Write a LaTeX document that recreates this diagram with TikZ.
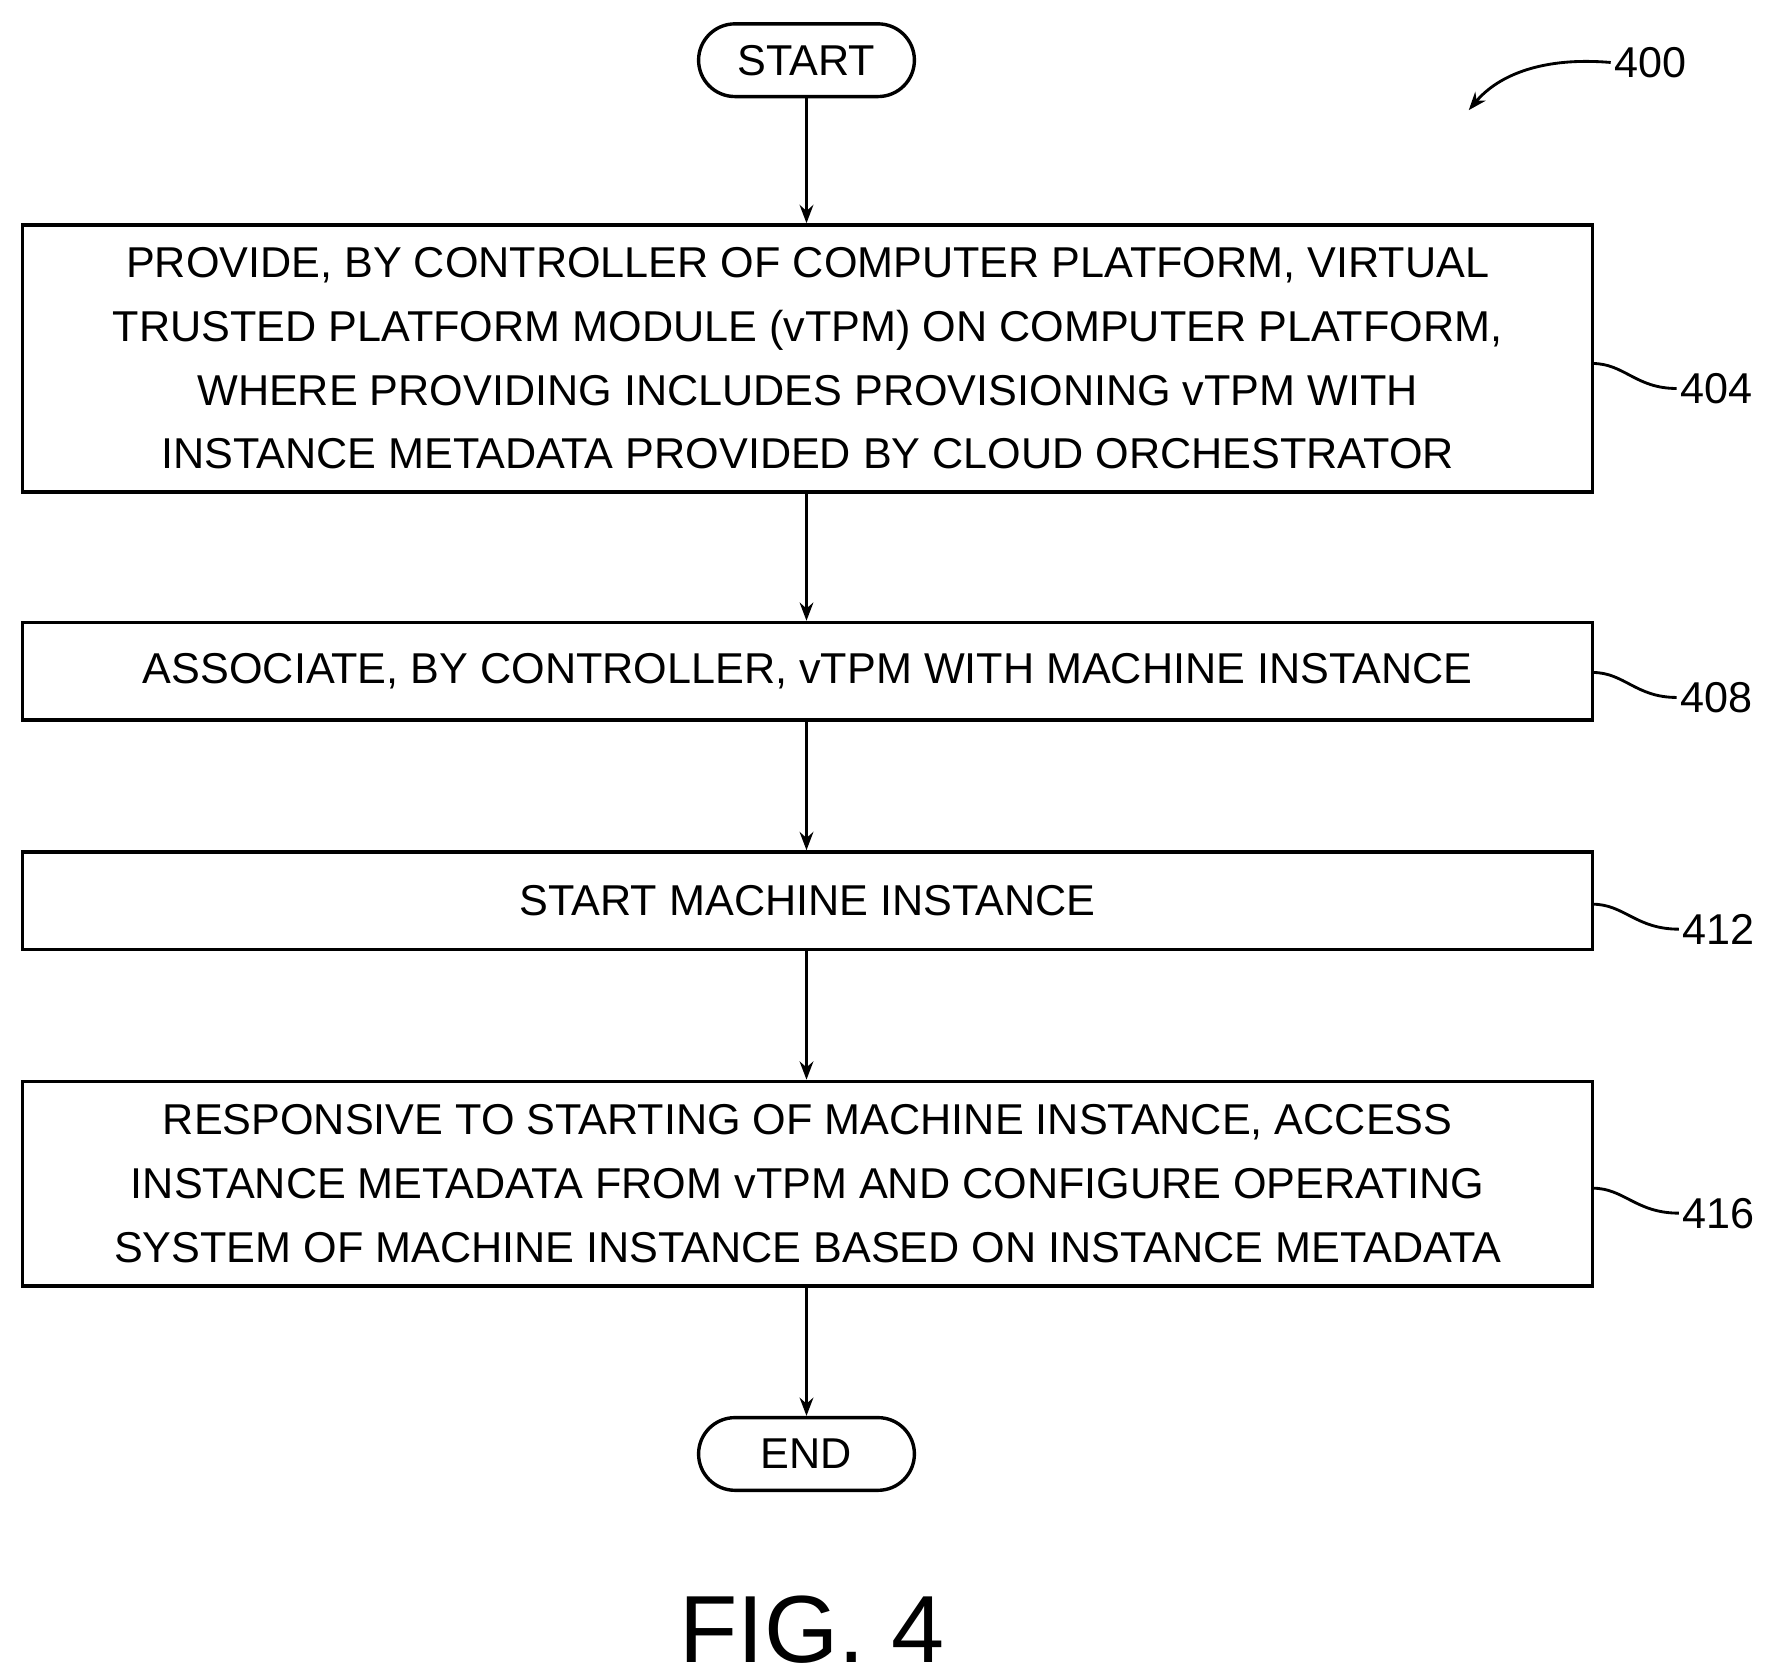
\documentclass[tikz,border=0pt]{standalone}
\usepackage{fontspec}
\setmainfont{Liberation Sans}
\usetikzlibrary{arrows.meta}
\begin{document}
\begin{tikzpicture}[x=1pt,y=-1pt,
  box/.style={draw,line width=3pt,minimum width=1382pt,align=center,inner sep=0pt,font=\fontsize{38}{56}\selectfont},
  pill/.style={draw,line width=3pt,rounded corners=32pt,minimum width=190pt,minimum height=64pt,font=\fontsize{38}{46}\selectfont},
  arr/.style={line width=3pt,-{Stealth[length=16pt,width=12pt]}},
  lead/.style={line width=2.5pt},
  lab/.style={font=\fontsize{38}{46}\selectfont}]
\useasboundingbox (0,0) rectangle (1560,1478);
\node[pill] (s) at (710,53) {START};
\node[box,minimum height=235pt] (b1) at (711,315.5) {PROVIDE, BY CONTROLLER OF COMPUTER PLATFORM, VIRTUAL\\TRUSTED PLATFORM MODULE (vTPM) ON COMPUTER PLATFORM,\\WHERE PROVIDING INCLUDES PROVISIONING vTPM WITH\\INSTANCE METADATA PROVIDED BY CLOUD ORCHESTRATOR};
\node[box,minimum height=86pt] (b2) at (711,591) {ASSOCIATE, BY CONTROLLER, vTPM WITH MACHINE INSTANCE};
\node[box,minimum height=86pt] (b3) at (711,793) {START MACHINE INSTANCE};
\node[box,minimum height=180pt] (b4) at (711,1042) {RESPONSIVE TO STARTING OF MACHINE INSTANCE, ACCESS\\INSTANCE METADATA FROM vTPM AND CONFIGURE OPERATING\\SYSTEM OF MACHINE INSTANCE BASED ON INSTANCE METADATA};
\node[pill] (e) at (710,1280) {END};
\draw[arr] (s) -- (s|-b1.north);
\draw[arr] (b1.south-|s) -- (s|-b2.north);
\draw[arr] (b2.south-|s) -- (s|-b3.north);
\draw[arr] (b3.south-|s) -- (s|-b4.north);
\draw[arr] (b4.south-|s) -- (e);
\node[lab,anchor=west] (l404) at (1476,342) {404};
\node[lab,anchor=west] (l408) at (1476,614) {408};
\node[lab,anchor=west] (l412) at (1478,818) {412};
\node[lab,anchor=west] (l416) at (1478,1068) {416};
\node[lab,anchor=west] (l400) at (1418,55) {400};
\coordinate (c404) at (1402,320);
\coordinate (c408) at (1402,592);
\coordinate (c412) at (1402,796);
\coordinate (c416) at (1402,1046);
\draw[lead] (c404) .. controls (1430,320) and (1440,342) .. (l404.west);
\draw[lead] (c408) .. controls (1430,592) and (1440,614) .. (l408.west);
\draw[lead] (c412) .. controls (1430,796) and (1440,818) .. (l412.west);
\draw[lead] (c416) .. controls (1430,1046) and (1440,1068) .. (l416.west);
\coordinate (a400) at (1293,97);
\draw[lead,-{Stealth[length=16pt,width=12pt]}] (l400.west) .. controls (1360,50) and (1320,65) .. (a400);
\node[font=\fontsize{84}{90}\selectfont] (fig) at (715,1435) {FIG. 4};
\end{tikzpicture}
\end{document}
